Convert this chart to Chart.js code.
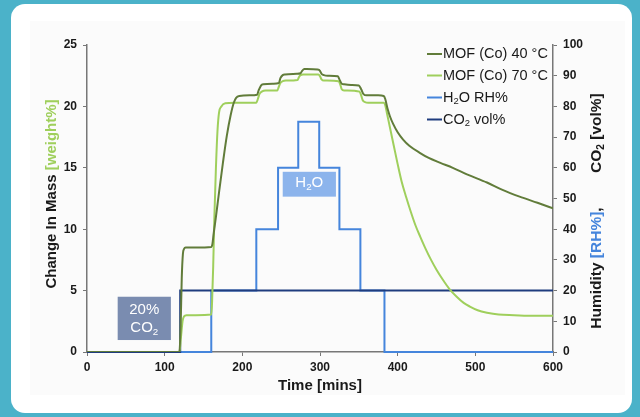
<!DOCTYPE html>
<html>
<head>
<meta charset="utf-8">
<script src="https://cdn.jsdelivr.net/npm/chart.js@4/dist/chart.umd.min.js"></script>
<style>
  html, body { margin: 0; padding: 0; }
  body { width: 640px; height: 417px; background: #4bb2c9; position: relative; overflow: hidden; }
  #card { position: absolute; left: 11px; top: 4px; width: 621px; height: 409px; background: #ffffff; border-radius: 14px; }
  #panel { position: absolute; left: 30px; top: 21px; width: 595px; height: 374px; background: #fbfbfb; }
  #wrap { position: absolute; left: 0; top: 0; width: 640px; height: 417px; }
</style>
</head>
<body>
<div id="card"></div>
<div id="panel"></div>
<div id="wrap"><canvas id="c" width="640" height="417"></canvas></div>
<script>
// MOF (Co) 40 °C - change in mass, weight%
const mof40Time = [0, 119, 120.5, 122, 123.5, 125, 127, 140, 160, 161.5, 163, 166, 170, 175, 180, 185, 189, 192, 196, 210, 219, 221, 224, 227, 240, 247, 249, 252, 255, 270, 275, 277, 280, 283, 297, 300, 302, 305, 310, 323, 325, 328, 331, 340, 350, 353, 356, 360, 375, 382, 384, 387, 390, 394, 400, 407, 415, 429, 440, 455, 471, 490, 515, 535, 557, 580, 600];
const mof40Mass = [0, 0, 2, 6, 8, 8.4, 8.5, 8.5, 8.55, 8.8, 9.6, 11, 13, 15.4, 17.6, 19.3, 20.3, 20.7, 20.85, 20.9, 20.95, 21.3, 21.7, 21.8, 21.85, 21.9, 22.3, 22.55, 22.6, 22.65, 22.7, 22.9, 23.05, 23.05, 23.0, 22.9, 22.65, 22.55, 22.5, 22.45, 22.2, 21.85, 21.8, 21.75, 21.7, 21.4, 21.0, 20.9, 20.9, 20.85, 20.6, 19.8, 19.2, 18.6, 17.9, 17.3, 16.8, 16.2, 15.8, 15.4, 15.0, 14.45, 13.8, 13.2, 12.65, 12.15, 11.7];

// MOF (Co) 70 °C
const mof70Time = [0, 119, 121, 123, 125, 128, 140, 160, 161, 162.5, 164, 166, 168, 170, 173, 178, 190, 218, 220, 222, 225, 230, 245, 247, 249, 252, 256, 271, 273, 275, 278, 282, 298, 300, 302, 305, 309, 324, 326, 328, 331, 335, 351, 353, 355, 358, 362, 382, 384, 386, 390, 395, 400, 405, 411, 417, 423, 429, 436, 443, 450, 458, 467, 476, 485, 493, 503, 515, 530, 550, 575, 600];
const mof70Mass = [0, 0, 1.2, 2.5, 2.9, 3.0, 3.0, 3.05, 4, 7, 11, 15, 18, 19.5, 20.0, 20.25, 20.3, 20.3, 20.6, 21.0, 21.2, 21.3, 21.3, 21.6, 21.9, 22.05, 22.1, 22.15, 22.4, 22.55, 22.6, 22.6, 22.6, 22.45, 22.2, 22.1, 22.1, 22.05, 21.8, 21.4, 21.3, 21.3, 21.2, 20.9, 20.5, 20.35, 20.3, 20.3, 20.1, 19.5, 18.3, 16.8, 15.3, 13.9, 12.6, 11.4, 10.3, 9.4, 8.4, 7.5, 6.7, 5.9, 5.1, 4.5, 4.0, 3.7, 3.4, 3.2, 3.05, 3.0, 2.95, 2.95];

// H2O RH% steps (time of change, new level)
const h2oTime = [0, 160, 218, 246, 272, 299, 325, 352, 383, 600];
const h2oRH = [0, 20, 40, 60, 75, 60, 40, 20, 0, 0];

// CO2 vol% steps
const co2Time = [0, 120, 600];
const co2Vol = [0, 20, 20];

const xTicks = [0, 100, 200, 300, 400, 500, 600];

const darkGreen = '#617c3a';
const lightGreen = '#9fcf5c';
const h2oBlue = '#4585dc';
const co2Navy = '#1f3c7e';
const txt = '#1a1a1a';

function pts(xs, ys) { return xs.map(function (x, i) { return { x: x, y: ys[i] }; }); }

const legendItems = [
    { color: darkGreen, parts: [['MOF (Co) 40 °C', 0]] },
    { color: lightGreen, parts: [['MOF (Co) 70 °C', 0]] },
    { color: h2oBlue, parts: [['H', 0], ['2', 1], ['O RH%', 0]] },
    { color: co2Navy, parts: [['CO', 0], ['2', 1], [' vol%', 0]] }
];

// draws a run of text pieces; flag 1 = subscript; colours optional
function drawParts(ctx, parts, x, y, size, bold, measureOnly) {
    let cx = x;
    parts.forEach(function (p) {
        const sub = p[1] === 1;
        const fs = sub ? size * 0.65 : size;
        ctx.font = (bold ? 'bold ' : '') + fs + 'px "Liberation Sans", Arial, sans-serif';
        if (!measureOnly) {
            ctx.fillStyle = p[2] || ctx.fillStyle;
            ctx.fillText(p[0], cx, sub ? y + size * 0.3 : y);
        }
        cx += ctx.measureText(p[0]).width;
    });
    return cx - x;
}

const decorPlugin = {
    id: 'decor',
    afterDatasetsDraw: function (chart) {
        const ctx = chart.ctx;
        const xs = chart.scales.x, y1 = chart.scales.y1;
        ctx.save();
        ctx.textBaseline = 'middle';

        // H2O label box
        let l = xs.getPixelForValue(252), r = xs.getPixelForValue(320.5);
        let t = y1.getPixelForValue(58.7), b = y1.getPixelForValue(50.6);
        ctx.fillStyle = '#8cb4ec';
        ctx.fillRect(l, t, r - l, b - t);
        let w = drawParts(ctx, [['H', 0], ['2', 1], ['O', 0]], 0, 0, 15, false, true);
        drawParts(ctx, [['H', 0, '#fff'], ['2', 1, '#fff'], ['O', 0, '#fff']], (l + r) / 2 - w / 2, (t + b) / 2 - 1, 15, false);

        // 20% CO2 box
        l = xs.getPixelForValue(39.5); r = xs.getPixelForValue(108);
        t = y1.getPixelForValue(18); b = y1.getPixelForValue(3.9);
        ctx.fillStyle = '#7a8cb0';
        ctx.fillRect(l, t, r - l, b - t);
        ctx.fillStyle = '#ffffff';
        ctx.font = '15px "Liberation Sans", Arial, sans-serif';
        ctx.textAlign = 'center';
        ctx.fillText('20%', (l + r) / 2, t + 13);
        ctx.textAlign = 'left';
        w = drawParts(ctx, [['CO', 0], ['2', 1]], 0, 0, 15, false, true);
        drawParts(ctx, [['CO', 0, '#fff'], ['2', 1, '#fff']], (l + r) / 2 - w / 2, t + 31, 15, false);

        // legend
        const rowsY = [54, 75.5, 97.5, 119.5];
        legendItems.forEach(function (it, i) {
            ctx.strokeStyle = it.color;
            ctx.lineWidth = 2;
            ctx.beginPath();
            ctx.moveTo(427, rowsY[i]);
            ctx.lineTo(442, rowsY[i]);
            ctx.stroke();
            drawParts(ctx, it.parts.map(function (p) { return [p[0], p[1], txt]; }), 443, rowsY[i], 14.5, false);
        });

        // left axis title
        ctx.save();
        ctx.translate(52, 194);
        ctx.rotate(-Math.PI / 2);
        const lt = [['Change In Mass ', 0, txt], ['[weight%]', 0, lightGreen]];
        w = drawParts(ctx, lt, 0, 0, 15, true, true);
        drawParts(ctx, lt, -w / 2, 0, 15, true);
        ctx.restore();

        // right axis title
        ctx.save();
        ctx.translate(597, 211);
        ctx.rotate(-Math.PI / 2);
        const rt = [['Humidity ', 0, txt], ['[RH%]', 0, h2oBlue], [',        CO', 0, txt], ['2', 1, txt], [' [vol%]', 0, txt]];
        w = drawParts(ctx, rt, 0, 0, 15.5, true, true);
        drawParts(ctx, rt, -w / 2, 0, 15.5, true);
        ctx.restore();

        // x axis title
        ctx.fillStyle = txt;
        ctx.font = 'bold 15px "Liberation Sans", Arial, sans-serif';
        ctx.textAlign = 'center';
        ctx.fillText('Time [mins]', 320, 386);
        ctx.restore();
    }
};

const tickFont = { family: '"Liberation Sans", Arial, sans-serif', size: 12, weight: 'bold' };
const axisGray = '#777777';

new Chart(document.getElementById('c'), {
    type: 'line',
    data: {
        datasets: [
            { label: 'MOF (Co) 40 °C', data: pts(mof40Time, mof40Mass), borderColor: darkGreen, borderWidth: 2, pointRadius: 0, cubicInterpolationMode: 'monotone', yAxisID: 'y' },
            { label: 'MOF (Co) 70 °C', data: pts(mof70Time, mof70Mass), borderColor: lightGreen, borderWidth: 2, pointRadius: 0, cubicInterpolationMode: 'monotone', yAxisID: 'y' },
            { label: 'CO2 vol%', data: pts(co2Time, co2Vol), borderColor: co2Navy, borderWidth: 2, pointRadius: 0, stepped: 'before', yAxisID: 'y1', clip: 4 },
            { label: 'H2O RH%', data: pts(h2oTime, h2oRH), borderColor: h2oBlue, borderWidth: 2, pointRadius: 0, stepped: 'before', yAxisID: 'y1', clip: 4 }
        ]
    },
    options: {
        responsive: false,
        animation: false,
        layout: { padding: { top: 45, left: 0, right: 0, bottom: 0 } },
        plugins: { legend: { display: false }, tooltip: { enabled: false } },
        scales: {
            x: {
                type: 'linear', min: 0, max: 600,
                afterBuildTicks: function (s) { s.ticks = xTicks.map(function (v) { return { value: v }; }); },
                afterFit: function (s) { s.height = 65; },
                grid: { display: true, drawOnChartArea: false, drawTicks: true, tickLength: 4, color: axisGray },
                border: { display: true, color: axisGray, width: 1.5 },
                ticks: { font: tickFont, color: txt, padding: 4, maxRotation: 0 }
            },
            y: {
                position: 'left', min: 0, max: 25,
                ticks: { stepSize: 5, font: tickFont, color: txt, padding: 6 },
                afterFit: function (s) { s.width = 87; },
                grid: { display: true, drawOnChartArea: false, drawTicks: true, tickLength: 4, color: axisGray },
                border: { display: true, color: axisGray, width: 1.5 }
            },
            y1: {
                position: 'right', min: 0, max: 100,
                ticks: { stepSize: 10, font: tickFont, color: txt, padding: 6 },
                afterFit: function (s) { s.width = 87; },
                grid: { display: true, drawOnChartArea: false, drawTicks: true, tickLength: 4, color: axisGray },
                border: { display: true, color: axisGray, width: 1.5 }
            }
        }
    },
    plugins: [decorPlugin]
});
</script>
</body>
</html>
